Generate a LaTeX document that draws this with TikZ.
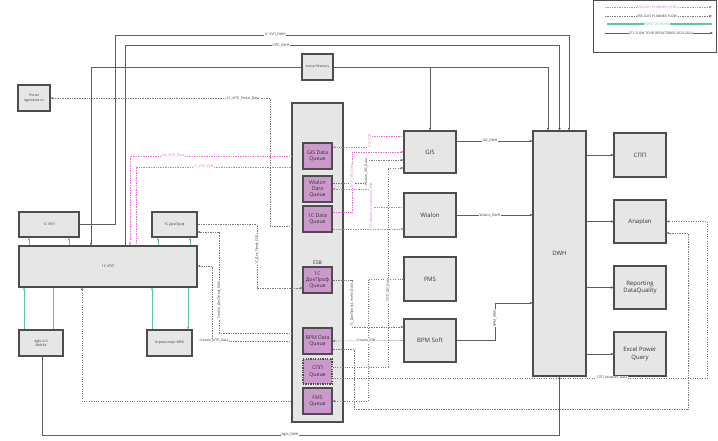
\documentclass[tikz,border=0pt]{standalone}
\usepackage{fontspec}
\setmainfont{Open Sans}
\usetikzlibrary{arrows.meta,backgrounds,calc}
\pgfdeclarelayer{bg}\pgfdeclarelayer{lines}\pgfsetlayers{bg,lines,main}
\definecolor{boxfill}{HTML}{E6E6E6}
\definecolor{boxline}{HTML}{4D4D4D}
\definecolor{qfill}{HTML}{CC99CC}
\definecolor{etlc}{HTML}{5E5E5E}
\definecolor{dotc}{HTML}{7A7A7A}
\definecolor{pinkc}{RGB}{228,110,212}
\definecolor{tealc}{RGB}{95,196,165}
\definecolor{txtc}{HTML}{333333}
\tikzset{
  box/.style={draw=boxline, fill=boxfill, line width=1.1pt, inner sep=0pt, align=center, text=txtc},
  bigbox/.style={box, font=\fontsize{6}{7.5}\selectfont},
  smallbox/.style={box, font=\fontsize{3.4}{4.4}\selectfont},
  queue/.style={box, fill=qfill, minimum width=29pt, font=\fontsize{5.2}{6.4}\selectfont},
  tip/.style={-{Triangle[length=2.6pt,width=2.2pt]}},
  etl/.style={draw=etlc, line width=0.9pt},
  dotl/.style={draw=dotc, line width=0.55pt, dash pattern=on 0.8pt off 0.9pt},
  dotthick/.style={draw=dotc, line width=0.9pt, dash pattern=on 1.1pt off 1.3pt},
  pinkl/.style={draw=pinkc, line width=0.55pt, dash pattern=on 0.8pt off 0.9pt},
  tealine/.style={draw=tealc, line width=0.8pt},
  lbl/.style={fill=white, inner sep=0.4pt, font=\fontsize{3.4}{4}\selectfont, text=txtc},
  plbl/.style={lbl, text=pinkc},
  leglbl/.style={fill=white, inner sep=0.5pt, font=\fontsize{3.3}{4}\selectfont, text=txtc},
}
\begin{document}
\begin{tikzpicture}[x=1pt,y=-1pt]
\useasboundingbox (0,0) rectangle (718,440);
\begin{pgfonlayer}{bg}
\fill[white] (0,0) rectangle (718,440);
\node[box, minimum width=51pt, minimum height=319pt, font=\fontsize{5}{6}\selectfont] (esb) at (317.5,262.5) {ESB};
\end{pgfonlayer}

% queues
\node[queue, minimum height=26pt] (gisq) at (317.5,156) {GIS Data\\Queue};
\node[queue, minimum height=26pt] (wq) at (317.5,189) {Wialon\\Data\\Queue};
\node[queue, minimum height=26pt] (cq) at (317.5,219) {1C Data\\Queue};
\node[queue, minimum height=26pt] (dq) at (317.5,280) {1C\\ДокПроф\\Queue};
\node[queue, minimum height=26pt] (bq) at (317.5,341) {BPM Data\\Queue};
\node[queue, minimum height=25pt, dash pattern=on 1.3pt off 1.1pt] (sq) at (317.5,371.5) {СПП\\Queue};
\node[queue, minimum height=26pt] (fq) at (317.5,401) {FMS\\Queue};

% big boxes
\node[bigbox, minimum width=52pt, minimum height=42pt] (gis) at (430,152) {GIS};
\node[bigbox, minimum width=52pt, minimum height=44pt] (wialon) at (430,215) {Wialon};
\node[bigbox, minimum width=52pt, minimum height=44pt] (fms) at (430,279) {FMS};
\node[bigbox, minimum width=52pt, minimum height=43pt] (bpm) at (430,340.5) {BPM Soft};
\node[bigbox, minimum width=53pt, minimum height=245pt] (dwh) at (559.5,253.5) {DWH};
\node[bigbox, minimum width=52pt, minimum height=44pt] (spp) at (640,155) {СПП};
\node[bigbox, minimum width=52pt, minimum height=43pt] (anaplan) at (640,221.5) {Anaplan};
\node[bigbox, minimum width=52pt, minimum height=43pt] (rep) at (640,287.5) {Reporting\\DataQuality};
\node[bigbox, minimum width=52pt, minimum height=44pt] (excel) at (640,354) {Excel Power\\Query};

% small boxes
\node[smallbox, minimum width=32pt, minimum height=26pt] (portal) at (34,98) {Portal\\Agroterra.ru};
\node[smallbox, minimum width=31pt, minimum height=26pt, font=\fontsize{3.2}{4}\selectfont] (ad) at (317.5,67) {Active Directory};
\node[smallbox, minimum width=60pt, minimum height=25pt] (zup) at (49,224.5) {1C ЗУП};
\node[smallbox, minimum width=45pt, minimum height=25pt] (dok) at (174.5,224.5) {1C ДокПроф};
\node[smallbox, minimum width=178pt, minimum height=41pt] (upp) at (108,266.5) {1C УПП};
\node[smallbox, minimum width=44pt, minimum height=26pt] (aglis) at (41,343) {Aglis 2.0\\Mobile};
\node[smallbox, minimum width=45pt, minimum height=26pt] (agro) at (169.5,343) {Агроэкспорт WEB};

% legend
\node[draw=boxline, fill=white, line width=0.9pt, minimum width=123pt, minimum height=52pt, inner sep=0pt] (legend) at (655,26.5) {};
\coordinate (l1a) at (605,7);  \coordinate (l1b) at (712,7);
\coordinate (l2a) at (605,16); \coordinate (l2b) at (712,16);
\coordinate (l3a) at (607,24); \coordinate (l3b) at (713,24);
\coordinate (l4a) at (605,33); \coordinate (l4b) at (713,33);
\draw[pinkl,tip] (l1a) -- (l1b);
\draw[dotl,tip] (l2a) -- (l2b);
\draw[tealine,line width=1.1pt,tip] (l3a) -- (l3b);
\draw[etl,line width=0.7pt,tip] (l4a) -- (l4b);
\node[leglbl, text=pinkc] (lt1) at (657,7) {ESB 2023 PLANNED FLOW};
\node[leglbl] (lt2) at (657,16) {ESB 2023 PLANNED FLOW};
\node[leglbl, text=tealc] (lt3) at (657,24) {POINT-TO-POINT};
\node[leglbl] (lt4) at (661,33) {ETL FLOW TO BE REFACTORED 2023-2024};

\begin{pgfonlayer}{lines}
% ETL flows
\draw[etl,tip] (zup.east) -| (115,35) -| ([xshift=9.5pt]dwh.north);
\draw[etl,tip] ([xshift=17pt]upp.north) -- ++(0,-200) -| (dwh.north);
\coordinate (adg) at (ad.east -| gis.north);
\draw[etl,tip] (ad.east) -| ([xshift=-11.5pt]dwh.north);
\draw[etl,tip] (adg) -- (gis.north);
\draw[etl,tip] (ad.west) -| ([xshift=-17pt]upp.north);
\draw[etl,tip] ([xshift=1pt]aglis.south) -- ++(0,79) -| (dwh.south);
\coordinate (g1) at ([yshift=11pt]gis.east);
\draw[etl,tip] (g1) -- (g1 -| dwh.west);
\draw[etl,tip] (wialon.east) -- (wialon.east -| dwh.west);
\draw[etl,tip] (bpm.east) -- ++(39,0) |- (dwh.west |- 0,303);
\foreach \t in {spp,anaplan,rep,excel} \draw[etl,tip] (dwh.east |- \t.west) -- (\t.west);

% point to point
\draw[tealine,tip] (upp.north -| 29,0) -- (zup.south -| 29,0);
\draw[tealine,tip] (upp.north -| 69,0) -- (zup.south -| 69,0);
\draw[tealine,tip] (upp.north -| 158,0) -- (dok.south -| 158,0);
\draw[tealine,tip] (upp.north -| 190,0) -- (dok.south -| 190,0);
\draw[tealine,tip] (aglis.north -| 24,0) -- (upp.south -| 24,0);
\draw[tealine] (aglis.north -| 53,0) -- (upp.south -| 53,0);
\draw[tealine,tip] (agro.north -| 152,0) -- (upp.south -| 152,0);
\draw[tealine,tip] (upp.south -| 188,0) -- (agro.north -| 188,0);

% pink ESB flows
\draw[pinkl,tip] (gis.west |- 0,136) -| (370,147) -- (gisq.east |- 0,147);
\draw[pinkl,tip] (esb.west |- 0,156) -| (upp.north -| 130,0);
\draw[pinkl] (upp.north -| 136,0) |- (esb.west |- 0,167);
\draw[pinkl,tip] (cq.east |- 0,212) -| (352,152) -- (gis.west |- 0,152);
\draw[pinkl,tip] (wialon.west |- 0,207) -| (371,189) -- (wq.east);
\draw[pinkl,tip] (cq.east |- 0,229) -- (wialon.west |- 0,229);

% black dotted ESB flows
\draw[dotl,tip] (wq.east |- 0,183) -| (366,160) -- (gis.west |- 0,160);
\draw[dotthick,tip] (sq.east |- 0,367) -| (388,168) -- (gis.west |- 0,168);
\draw[dotthick,tip] (sq.east |- 0,378) -| ([xshift=41pt]anaplan.east) -- (anaplan.east);
\draw[dotl,tip] (bq.east |- 0,349) -| (354,409) -| (688,233) -- (anaplan.east |- 0,233);
\draw[dotl,tip] (dok.east) -| (257,288) -- (dq.west |- 0,288);
\draw[dotl,tip] (esb.west |- 0,333) -| (219,232) -- (dok.east |- 0,232);
\draw[dotl,tip] (esb.west |- 0,341) -| (212,266) -- (upp.east |- 0,266);
\draw[dotl,tip] (esb.west |- 0,226) -| (270,98) -- (portal.east);
\draw[dotl,tip] (dq.east) -| (352,327) -- (bpm.west |- 0,327);
\draw[dotl,tip] (bpm.west) -- (bq.east);
\draw[dotthick,tip] (fms.west) -| (368,401) -- (fq.east);
\draw[dotthick,tip] (esb.west |- 0,401) -| ([xshift=-26pt]upp.south);
\end{pgfonlayer}

% connector labels
\node[lbl] (t1) at (275,35) {1C ЗУП\_DWH};
\node[lbl] (t2) at (281,46) {УПП\_DWH};
\node[lbl] (t3) at (243,98) {1C\_УПП\_Portal\_Data};
\node[lbl] (t4) at (490,141) {GIS\_DWH};
\node[lbl] (t5) at (490,215) {Wialon\_DWH};
\node[lbl, rotate=90] (t6) at (495,318) {BPM\_DWH};
\node[lbl] (t7) at (290,435) {Aglis\_DWH};
\node[lbl] (t8) at (612,378) {СПП\_Anaplan\_Data};
\node[plbl] (t9) at (173,156) {GIS\_УПП\_Data};
\node[plbl] (t10) at (203,167) {1C\_УПП\_ESB};
\node[plbl, rotate=90] (t11) at (370,141) {GIS\_ESB};
\node[plbl, rotate=90] (t12) at (352,176) {УПП\_GIS\_Data};
\node[plbl, rotate=90] (t13) at (371,207) {УПП\_Wialon\_Deactivation\_ESB};
\node[lbl, rotate=90] (t14) at (366,172) {Wialon\_GIS\_Data};
\node[lbl, rotate=90] (t15) at (388,290) {СПП\_GIS\_Data};
\node[lbl, rotate=90] (t16) at (352,305) {1C\_ДокПроф\_Creatio\_Data};
\node[lbl] (t17) at (366,341) {Creatio\_ESB};
\node[lbl, rotate=90] (t18) at (257,250) {1C\_Док\_Проф\_ESB};
\node[lbl, rotate=90] (t19) at (219,300) {Creatio\_ДокПроф\_Data};
\node[lbl] (t20) at (214,341) {Creatio\_УПП\_Data};
\end{tikzpicture}
\end{document}
